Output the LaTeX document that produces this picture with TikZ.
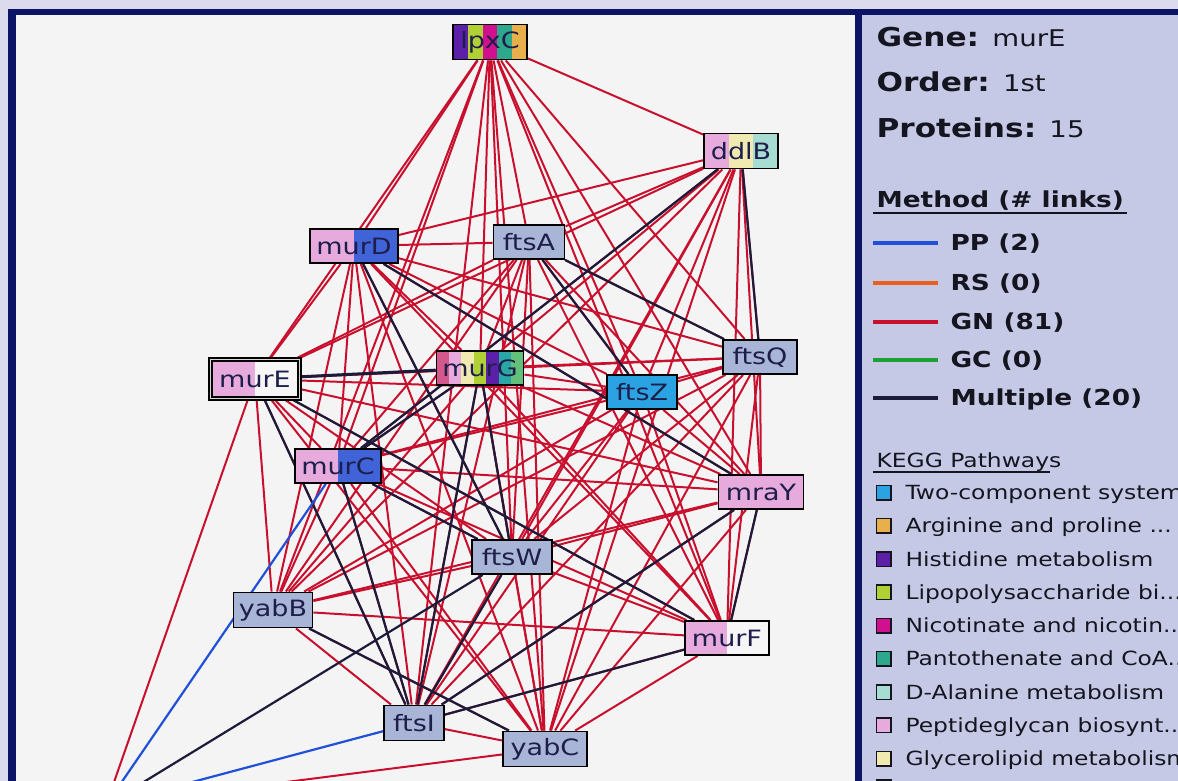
\documentclass[tikz,border=0pt]{standalone}
\usepackage{fontspec}
\setmainfont{DejaVu Sans}[FakeStretch=1.2]
\usetikzlibrary{calc}
\pgfdeclarelayer{back}
\pgfdeclarelayer{edges}
\pgfsetlayers{back,edges,main}
\newcommand\tdots{...}
\definecolor{navy}{HTML}{0C1466}
\definecolor{lav}{HTML}{DCDBEE}
\definecolor{panel}{HTML}{F4F4F4}
\definecolor{side}{HTML}{C6C9E6}
\definecolor{gncol}{HTML}{C8102E}
\definecolor{mult}{HTML}{1C1C3A}
\definecolor{ppcol}{HTML}{2050D8}
\definecolor{rscol}{HTML}{E8601C}
\definecolor{gccol}{HTML}{1FA033}
\definecolor{ptwo}{HTML}{2BA3E3}
\definecolor{parg}{HTML}{E8B04A}
\definecolor{phis}{HTML}{5B1FA8}
\definecolor{plps}{HTML}{B0D035}
\definecolor{pnic}{HTML}{D0108E}
\definecolor{ppan}{HTML}{2EA88C}
\definecolor{pdal}{HTML}{A6DCD2}
\definecolor{ppep}{HTML}{E6AADC}
\definecolor{pgly}{HTML}{F0EAB0}
\definecolor{pglu}{HTML}{4063D8}
\definecolor{gene}{HTML}{A9B5D6}
\definecolor{nwhite}{HTML}{F6F6F6}
\definecolor{gdk}{HTML}{D4588C}
\definecolor{ggrn}{HTML}{62C07A}
\definecolor{gteal}{HTML}{2AA6A6}
\definecolor{ntext}{HTML}{1E1E4A}
\definecolor{ltext}{HTML}{151520}
\definecolor{gapcol}{HTML}{D8D8D8}
\tikzset{
  gnode/.style={draw=black, line width=1.9pt, inner sep=0pt, text=ntext,
    font=\fontsize{22.5}{26}\selectfont, fill=gene},
  stripes/.style 2 args={path picture={
    \foreach \c [count=\i from 0] in {#2}{
      \fill[\c] ($(path picture bounding box.south west)!{\i/#1}!(path picture bounding box.south east)$)
        rectangle ($(path picture bounding box.north west)!{(\i+1)/#1}!(path picture bounding box.north east)$);}}},
  gnedge/.style={gncol, line width=2pt},
  muedge/.style={mult, line width=2.2pt},
  ppedge/.style={ppcol, line width=2.2pt},
  swatch/.style={line width=4pt},
  keybox/.style={draw=ltext, line width=1.5pt, minimum size=14.5pt, inner sep=0pt},
  keytext/.style={anchor=base west, text=ltext, font=\fontsize{19.5}{23}\selectfont},
  bigtext/.style={anchor=base west, text=ltext, font=\fontsize{26}{30}\selectfont},
  methtext/.style={anchor=base west, text=ltext, font=\bfseries\fontsize{22}{26}\selectfont}
}
\begin{document}
\begin{tikzpicture}[x=1pt,y=-1pt]
\useasboundingbox (0,0) rectangle (1178,781);
\begin{pgfonlayer}{back}
  \fill[lav] (0,0) rectangle (1178,781);
  \fill[navy] (8,9) rectangle (1178,15);
  \fill[navy] (8,9) rectangle (16,781);
  \fill[panel] (16,15) rectangle (855,781);
  \fill[navy] (855,15) rectangle (862,781);
  \fill[side] (862,15) rectangle (1178,781);
\end{pgfonlayer}

% gene nodes
\node[gnode, minimum width=74pt, minimum height=35pt, stripes={5}{phis,plps,pnic,ppan,parg}] (lpxC) at (490,42) {lpxC};
\node[gnode, minimum width=74pt, minimum height=35pt, stripes={3}{ppep,pgly,pdal}] (ddlB) at (741,151) {ddlB};
\node[gnode, minimum width=88pt, minimum height=34pt, stripes={2}{ppep,pglu}] (murD) at (354,246) {murD};
\node[gnode, minimum width=71pt, minimum height=34pt] (ftsA) at (529,242) {ftsA};
\node[gnode, draw=black, line width=2pt, double=gapcol, double distance=1.8pt,
      minimum width=89pt, minimum height=39pt, stripes={2}{ppep,nwhite}] (murE) at (255,379) {murE};
\node[gnode, minimum width=87pt, minimum height=34pt, stripes={7}{gdk,ppep,pgly,plps,phis,gteal,ggrn}] (murG) at (480,368) {murG};
\node[gnode, minimum width=74pt, minimum height=34pt] (ftsQ) at (760,357) {ftsQ};
\node[gnode, minimum width=70pt, minimum height=34pt, fill=ptwo] (ftsZ) at (642,392) {ftsZ};
\node[gnode, minimum width=86pt, minimum height=34pt, stripes={2}{ppep,pglu}] (murC) at (338,466) {murC};
\node[gnode, minimum width=85pt, minimum height=34pt, fill=ppep] (mraY) at (761,492) {mraY};
\node[gnode, minimum width=80pt, minimum height=34pt] (ftsW) at (512,557) {ftsW};
\node[gnode, minimum width=79pt, minimum height=35pt] (yabB) at (273,610) {yabB};
\node[gnode, minimum width=84pt, minimum height=34pt, stripes={2}{ppep,nwhite}] (murF) at (727,638) {murF};
\node[gnode, minimum width=60pt, minimum height=35pt] (ftsI) at (414,723) {ftsI};
\node[gnode, minimum width=84pt, minimum height=35pt] (yabC) at (545,749) {yabC};
\coordinate (hid) at (106,805);

% connectors
\begin{pgfonlayer}{edges}
  \clip (16,15) rectangle (855,781);
  \foreach \a [count=\i] in {lpxC,ddlB,murD,ftsA,murE,murG,ftsQ,ftsZ,murC,mraY,ftsW,yabB,murF,ftsI,yabC}{
    \foreach \b [count=\j] in {lpxC,ddlB,murD,ftsA,murE,murG,ftsQ,ftsZ,murC,mraY,ftsW,yabB,murF,ftsI,yabC}{
      \ifnum\j>\i \draw[gnedge] (\a) -- (\b);\fi
    }
  }
  \draw[gnedge] (murE) -- (hid);
  \draw[gnedge] (yabC) -- (hid);
  \foreach \a/\b in {ddlB/murC,ddlB/ftsQ,mraY/murF,mraY/ftsI,ftsI/murF,yabB/yabC,
      murE/ftsI,murC/ftsI,murG/ftsI,murE/murF,ftsA/ftsQ,ftsA/ftsZ,murD/mraY,
      murG/murC,murD/ftsW,murG/ftsW,murC/ftsW,ftsI/ftsW}{
    \draw[muedge] (\a) -- (\b);
  }
  \draw[muedge, line width=3pt] (murE) -- (murG);
  \draw[muedge] (ftsW) -- (hid);
  \draw[ppedge] (murC) -- (hid);
  \draw[ppedge] (ftsI) -- (hid);
\end{pgfonlayer}

% legend
\node[bigtext] (lg1) at (873,47) {\textbf{Gene:} {\fontsize{23}{28}\selectfont murE}};
\node[bigtext] (lg2) at (873,92) {\textbf{Order:} {\fontsize{23}{28}\selectfont 1st}};
\node[bigtext] (lg3) at (873,138) {\textbf{Proteins:} {\fontsize{23}{28}\selectfont 15}};
\node[methtext] (mt) at (873,207) {Method (\# links)};
\draw[ltext, line width=2pt] (873,213) -- (1127,213);
\foreach \y/\c/\t in {243/ppcol/PP (2),283/rscol/RS (0),322/gncol/GN (81),360/gccol/GC (0),398/mult/Multiple (20)}{
  \draw[swatch, \c] (873,\y) -- (938,\y);
  \node[methtext] at (947,\y+7) {\t};
}
\node[keytext] (kg) at (873,467) {KEGG Pathways};
\draw[ltext, line width=2pt] (873,472) -- (1050,472);
\foreach \c/\t [count=\k from 0] in {ptwo/Two-component system,parg/Arginine and proline \tdots,
    phis/Histidine metabolism,plps/Lipopolysaccharide bi\tdots,pnic/Nicotinate and nicotin\tdots,
    ppan/Pantothenate and CoA\tdots,pdal/D-Alanine metabolism,ppep/Peptideglycan biosynt\tdots,
    pgly/Glycerolipid metabolism}{
  \node[keybox, fill=\c] at (883.5,492.5+33.25*\k) {};
  \node[keytext] at (902,499.5+33.25*\k) {\t};
}
\node[keybox, fill=pglu] (k10) at (883.5,787) {};
\end{tikzpicture}
\end{document}
